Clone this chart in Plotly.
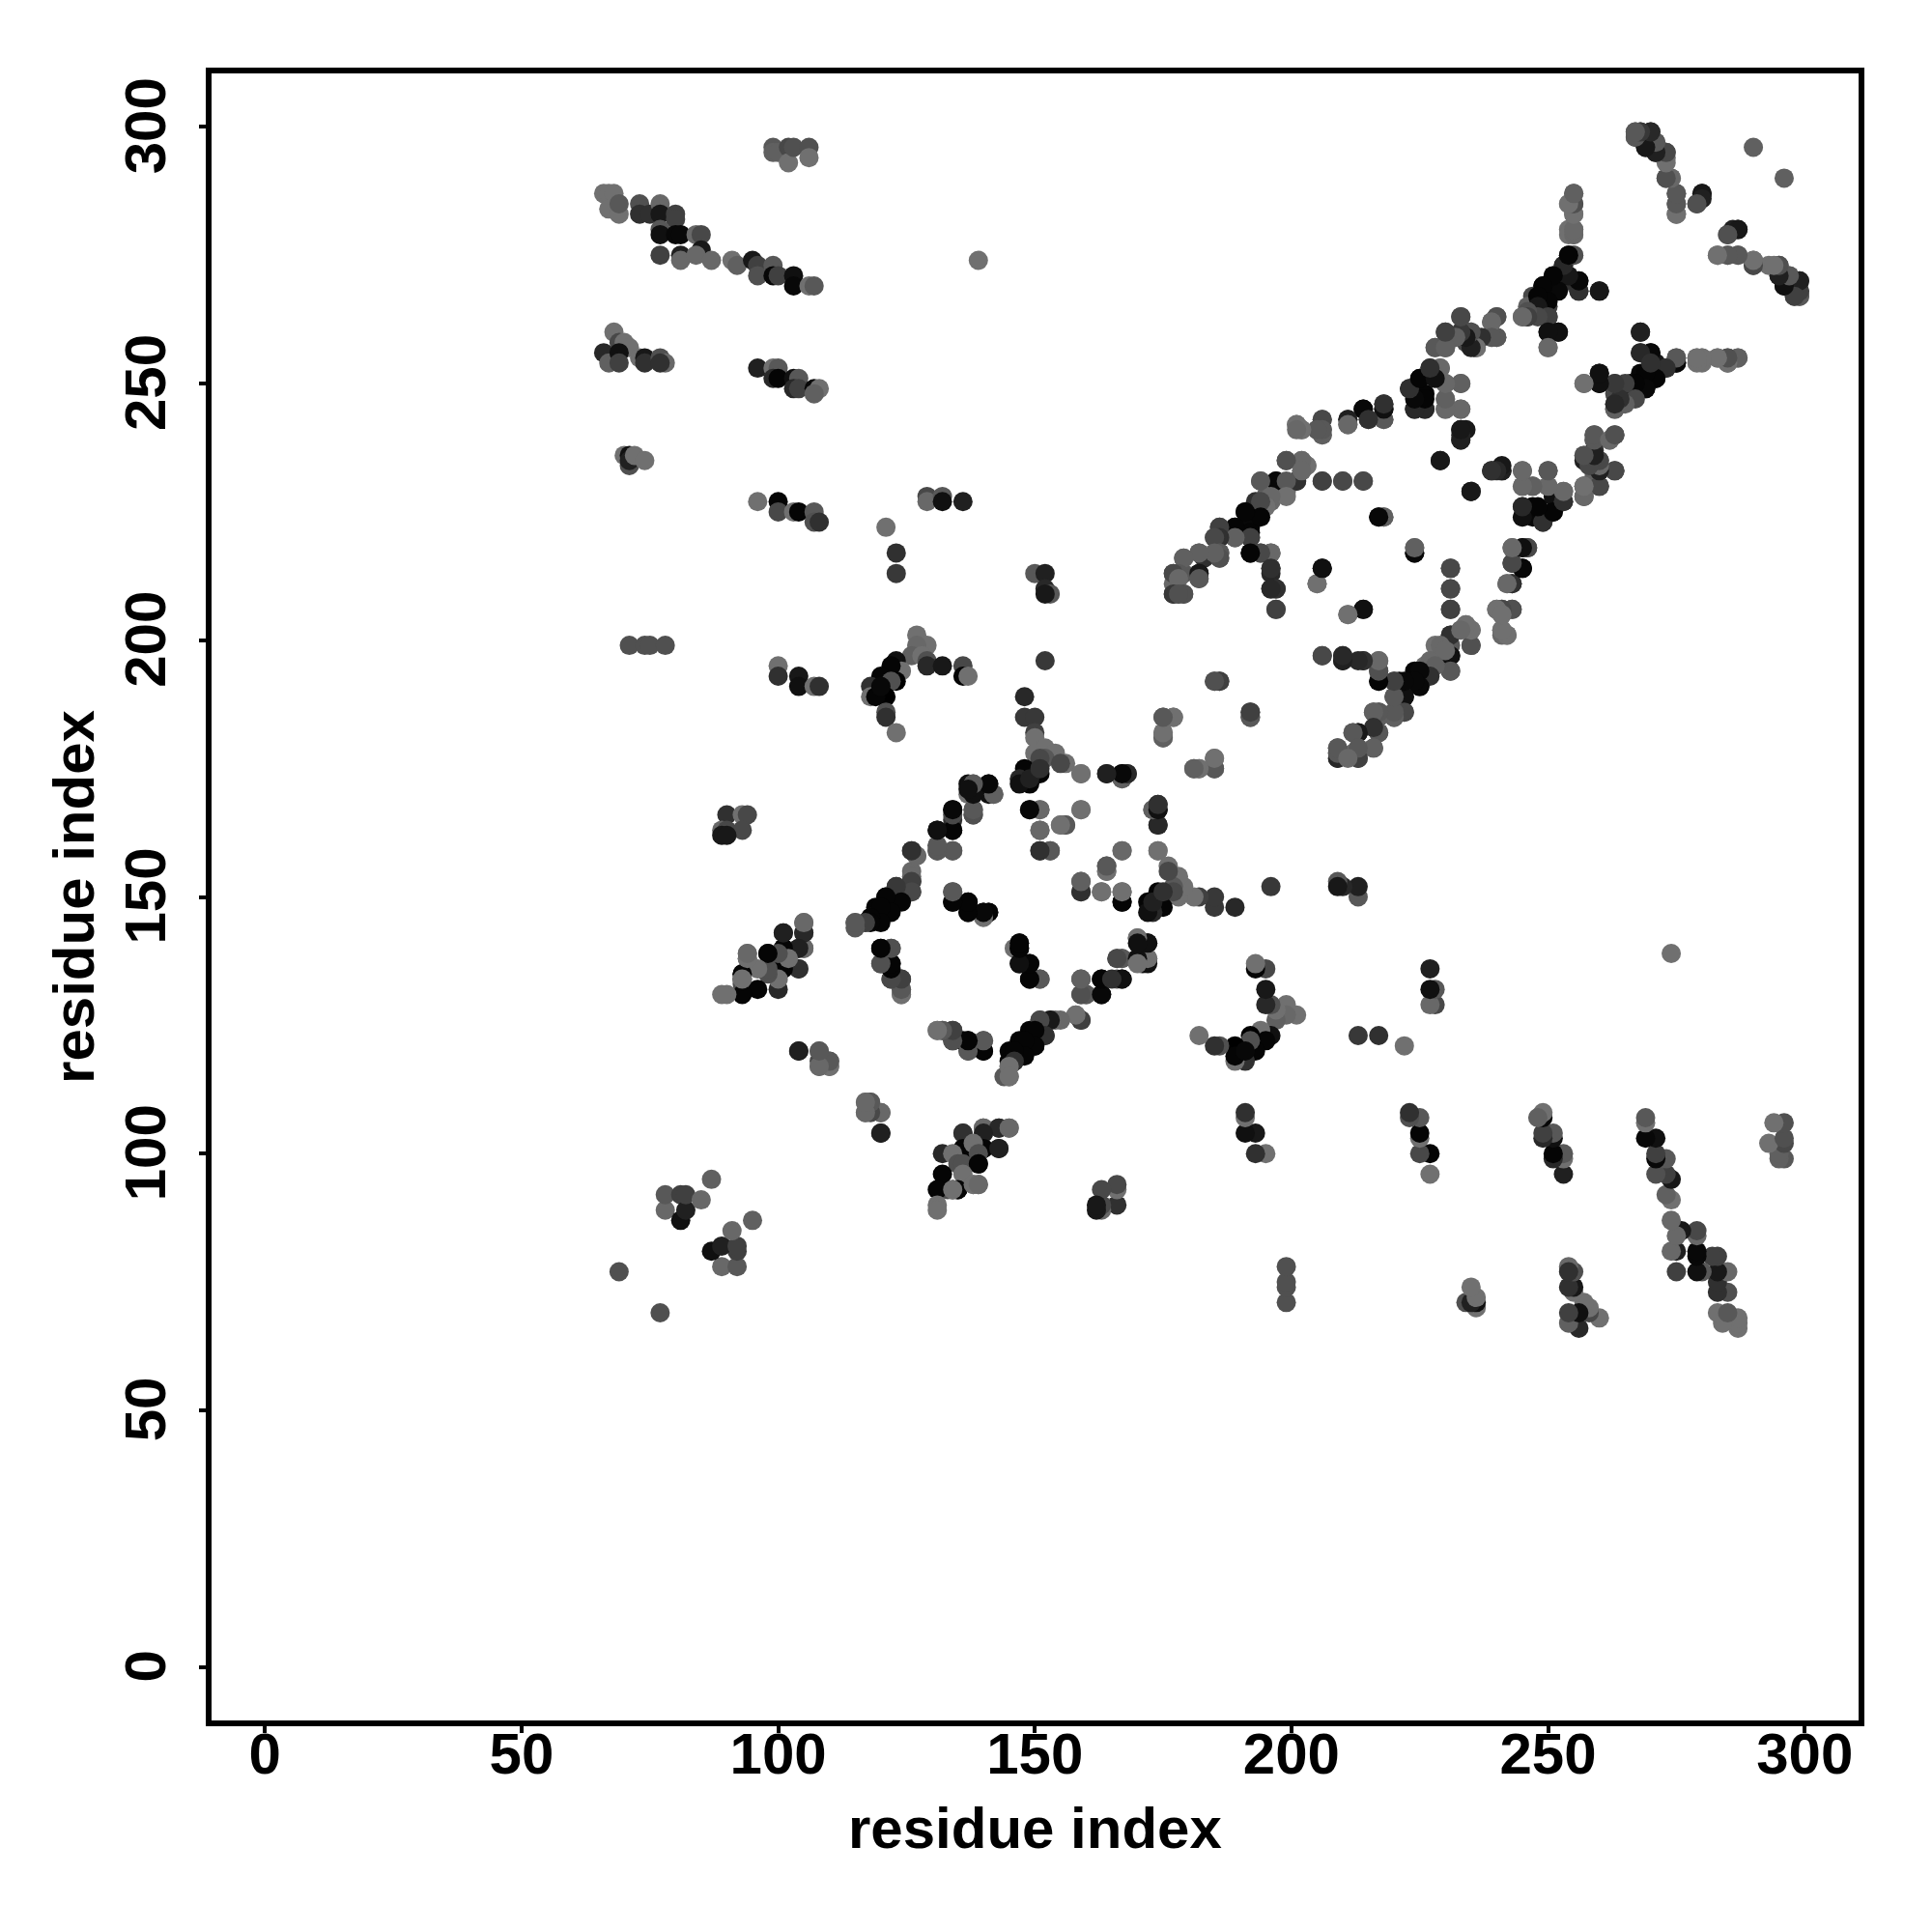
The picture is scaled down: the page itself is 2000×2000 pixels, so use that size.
import plotly.graph_objects as go

# Contact pairs (i < j); the map is symmetric. Shade is the grey level of each dot.
contact_i = [
 66,67,68,67,69,69, 73,73,75,77,77,80,80,77,77,80,81,
 77,81,81,84,85,85,84,87, 91,92,95,96,96,99,99,100,103,103,106,107,
 68,66,67,69,70,71,69,69,73,74,74,77,78,77,
 96,99,100,99,100,103,104,103,104,107,108,107,
 99,99,100,102,102,103,106,106,
 70,71,71,71,72,74,
 96,100,100,103,104,107,107,108,
 129,129,132,132,136, 121,123,123,
 150,152,152,153,152,
 71,74,75,78, 100,100,104,104,107,108,
 127,129,127,126,128,129,129,132,136,136,137,
 123,124,122,123,120,122,118,121,118,119,120,121,121,123,
 152,148,148,150,150,150,150,152,154,152,151,156,155,159,164,167,167,168,
 148,151,147,149,147,149,151,
 149,151,159,151,155,156,151,153,167,
 164,164,159,159,163,167,167,
 174,173,174,174,174,185,186,175,177,175,175,192,192,181,182,185,185,
 126,127,131,131,134,131,134,134,134,138,138,
 137,138,138,137,141,142,141,
 126,126,126,123,124,121,122,119,120,118,117,115,
 134,134,137,137,140,141,
 120,122,120,122,122,124,124,124,
 147,146,147,147,149,149,151,
 159,159,160,163,163,166,167,166,167,170,170,172,172,171,
 158,159,154,153,151,152,149,150,147,148,145,146,145,145,144,145,
 131,132,134,134,136,137,137,140,140,
 105,105,101,105,104,98,101,102,94,94,104,93,93,93,
 90,93,94,89,90,93,89,90,
 104,108,108,110,108,110, 117,118,117,120,120,
 104,105,105,105,104,100,101,100,101,101,102,100,100,98,98,98,96,96,93,93,93,94,94,90,89,
 69,78,78,81,81,82,82,85,87,
 201,202,206,206,206,205,211,211,214,215,218,218,218,
 223,225,227,229,230,233,226,224,226,230,230,233,
 233,234,233,233,229,235,239,241,245,250,245,247,250,253,257,257,
 245,245,247,247,249,251,251,253,
 243,245,246,245,243,243,242,240,243,241,241,241,242,241,
 234,235,235,231,233,231,231,231,228,228,226,227,224,225,221,222,220,217,217,217,214,210,210,206,
 220,222,220,220,217,216,217,217,213,212,216,213,213,212,209,209,209,
 199,202,203,201,202,206,210,214,
 197,194,199,198,196,195,193,194,191,192,189,192,186,185,186,189,192,192,194,196,196,196,196,197,197,
 206,205,211,214, 217,218,224,224, 231,231,231,
 186,186,182,183,179,182,182,177,179,177,178,179,177,
 267,268,270,267,269,271,271,273,273,273,274,275,275,275,
 280,279,290,287,286,285,
 283,285,287,290,290,293,295,295,297,296,298,299,299,299,
 255,254,255,255,254,255,254,255,
 254,255,253,251,252,249,250,256,256,254,260,247,246,250,247,245,246,250,
 250,252,250,
 268,268,270,271,273,275,275,279,280,283,285,285,287,
 268,271,269,266,267,265,263,263,264,263,263,260,260,257,
 259,263,262,259,259,257,257,260,259,260,263,259,257,260,
 233,230,228,230,233,234,235,234,236,236,239,240,239,240,
 139,
]
contact_j = [
 287,287,287,284,283,285, 285,283,283,285,283,283,282,280,279,279,279,
 275,275,274,279,279,276,275,274, 274,273,274,273,271,273,271,271,271,269,269,269,
 260,256,254,258,258,257,256,254,255,255,254,255,254,254,
 253,253,253,251,251,251,251,249,249,249,249,248,
 296,295,295,296,293,296,296,294,
 236,236,234,235,236,235,
 227,227,225,225,225,225,223,223,
 228,227,228,227,227, 222,217,213,
 213,213,210,209,209,
 199,199,199,199, 195,193,193,191,191,191,
 201,199,199,197,197,196,195,195,195,193,193,
 196,194,195,192,193,192,191,189,189,189,191,186,185,182,
 196,189,185,185,182,181,178,179,178,177,177,176,176,174,174,173,174,174,
 175,174,173,172,172,173,175,
 167,167,167,163,164,164,159,159,159,
 156,155,153,151,151,151,149,
 159,167,168,167,164,192,192,185,185,182,181,186,185,175,175,177,175,
 159,158,160,159,159,163,163,167,165,167,166,
 172,172,170,170,172,170,170,
 155,153,151,152,150,150,148,148,146,146,145,145,
 151,149,149,147,147,147,
 140,140,137,137,134,134,132,131,
 141,140,140,137,137,134,134,
 134,131,131,134,131,134,134,138,138,142,138,141,138,137,
 127,126,126,126,126,123,124,121,122,120,120,118,118,117,115,115,
 124,124,124,122,122,122,120,122,120,
 145,143,143,140,140,139,140,139,139,138,136,135,134,133,
 166,166,166,163,163,163,162,162,
 120,120,118,118,117,117, 110,110,108,108,104,
 136,140,143,145,140,132,136,136,140,143,138,134,139,135,136,139,132,136,131,135,134,138,139,131,131,
 77,89,92,87,92,89,92,91,95,
 242,241,243,241,240,241,243,242,245,243,246,245,243,
 249,251,253,253,250,250,248,245,245,247,245,245,
 241,241,240,239,235,229,233,233,233,233,230,230,230,229,230,228,
 226,224,226,224,223,225,228,227,
 218,218,218,214,215,211,211,206,206,206,205,202,201,201,
 203,202,199,201,202,197,194,199,199,196,195,194,194,191,192,189,192,196,194,192,196,197,196,197,
 189,186,186,185,186,186,185,182,182,182,179,178,177,178,179,177,178,
 235,235,234,231,233,231,231,231,
 231,231,229,230,227,228,227,225,225,224,222,222,222,220,220,220,220,217,217,217,214,213,210,210,206,
 214,211,205,206, 224,224,218,217, 214,210,206,
 217,216,217,216,216,213,212,213,213,209,209,209,211,
 299,299,299,298,296,297,295,295,294,290,290,287,285,283,
 287,285,296,280,280,279,
 275,275,275,274,273,273,273,271,271,269,267,270,268,267,
 287,285,285,283,280,280,279,279,
 275,275,273,271,269,269,267,270,268,270,268,267,265,265,264,263,263,263,
 260,260,257,
 260,256,256,254,253,255,254,255,255,255,255,254,255,
 252,251,249,250,248,248,250,248,246,246,245,252,250,250,
 240,240,239,239,237,236,235,235,234,233,233,232,230,230,
 263,260,257,257,260,260,260,258,259,257,259,259,262,263,
 274,
]
contact_shade = [
 0x70,0x70,0x70,0x70,0x70,0x58, 0x50,0x30,0x30,0x68,0x18,0x40,0x40,0x58,0x10,0x08,0x08,
 0x40,0x20,0x68,0x68,0x48,0x18,0x68,0x68, 0x70,0x60,0x18,0x40,0x50,0x58,0x08,0x40,0x10,0x08,0x70,0x58,
 0x70,0x28,0x60,0x48,0x70,0x70,0x10,0x40,0x70,0x18,0x30,0x50,0x68,0x30,
 0x20,0x70,0x58,0x28,0x05,0x10,0x58,0x28,0x40,0x08,0x70,0x60,
 0x58,0x60,0x60,0x48,0x70,0x50,0x50,0x70,
 0x70,0x10,0x50,0x20,0x70,0x70,
 0x70,0x05,0x48,0x70,0x05,0x58,0x50,0x30,
 0x48,0x68,0x58,0x10,0x20, 0x70,0x30,0x38,
 0x58,0x20,0x28,0x58,0x18,
 0x50,0x50,0x50,0x50, 0x70,0x30,0x18,0x10,0x70,0x30,
 0x70,0x70,0x68,0x60,0x70,0x50,0x28,0x18,0x48,0x05,0x70,
 0x10,0x70,0x05,0x00,0x05,0x50,0x30,0x00,0x70,0x05,0x08,0x50,0x30,0x70,
 0x38,0x28,0x38,0x38,0x40,0x70,0x70,0x70,0x70,0x58,0x48,0x70,0x48,0x70,0x28,0x60,0x10,0x30,
 0x05,0x05,0x28,0x05,0x10,0x20,0x30,
 0x05,0x70,0x68,0x70,0x70,0x58,0x30,0x60,0x70,
 0x58,0x70,0x58,0x30,0x68,0x68,0x08,
 0x70,0x60,0x28,0x08,0x20,0x58,0x40,0x58,0x70,0x70,0x60,0x40,0x50,0x60,0x70,0x70,0x58,
 0x40,0x70,0x58,0x50,0x60,0x08,0x05,0x10,0x30,0x58,0x48,
 0x10,0x70,0x10,0x70,0x10,0x70,0x10,
 0x68,0x18,0x48,0x30,0x05,0x05,0x05,0x05,0x05,0x30,0x70,0x70,
 0x58,0x05,0x05,0x10,0x05,0x05,
 0x05,0x58,0x58,0x05,0x50,0x40,0x58,0x70,
 0x05,0x70,0x08,0x05,0x05,0x05,0x58,
 0x58,0x58,0x58,0x05,0x10,0x48,0x08,0x50,0x58,0x60,0x10,0x08,0x58,0x10,
 0x68,0x30,0x68,0x40,0x48,0x38,0x05,0x05,0x05,0x05,0x05,0x05,0x05,0x40,0x58,0x58,
 0x70,0x58,0x40,0x48,0x05,0x05,0x50,0x50,0x05,
 0x68,0x30,0x20,0x58,0x48,0x05,0x05,0x70,0x68,0x68,0x40,0x05,0x05,0x50,
 0x30,0x70,0x48,0x68,0x48,0x48,0x18,0x18,
 0x20,0x68,0x48,0x58,0x68,0x68, 0x70,0x58,0x68,0x58,0x20,
 0x30,0x68,0x28,0x68,0x20,0x28,0x05,0x05,0x05,0x20,0x70,0x70,0x50,0x50,0x50,0x05,0x05,0x70,0x05,0x05,0x70,0x70,0x68,0x70,0x70,
 0x50,0x68,0x58,0x10,0x40,0x20,0x40,0x68,0x60,
 0x70,0x70,0x50,0x48,0x70,0x70,0x30,0x68,0x08,0x48,0x48,0x10,0x68,
 0x30,0x05,0x30,0x68,0x68,0x58,0x05,0x10,0x28,0x60,0x68,0x68,
 0x20,0x18,0x28,0x30,0x18,0x18,0x20,0x18,0x68,0x60,0x68,0x60,0x68,0x68,0x68,0x58,
 0x28,0x28,0x05,0x08,0x30,0x05,0x10,0x30,
 0x58,0x10,0x30,0x08,0x30,0x20,0x68,0x60,0x48,0x58,0x58,0x70,0x70,0x68,
 0x70,0x68,0x50,0x30,0x68,0x08,0x58,0x58,0x70,0x68,0x70,0x48,0x05,0x05,0x05,0x05,0x40,0x68,0x48,0x05,0x30,0x30,0x28,0x40,
 0x60,0x40,0x30,0x48,0x58,0x50,0x60,0x60,0x18,0x58,0x60,0x58,0x48,0x68,0x50,0x38,0x50,
 0x50,0x70,0x70,0x30,0x68,0x40,0x48,0x48,
 0x10,0x58,0x68,0x68,0x68,0x60,0x30,0x08,0x08,0x08,0x10,0x08,0x48,0x60,0x58,0x58,0x40,0x05,0x50,0x68,0x30,0x28,0x20,0x28,0x48,
 0x10,0x70,0x70,0x10, 0x08,0x60,0x60,0x08, 0x48,0x48,0x40,
 0x58,0x60,0x58,0x30,0x60,0x18,0x58,0x40,0x58,0x28,0x58,0x58,0x68,
 0x58,0x40,0x20,0x40,0x10,0x58,0x20,0x50,0x70,0x48,0x70,0x58,0x58,0x70,
 0x18,0x50,0x60,0x18,0x20,0x50,
 0x70,0x58,0x58,0x68,0x50,0x70,0x48,0x20,0x58,0x18,0x58,0x28,0x38,0x58,
 0x60,0x70,0x50,0x70,0x70,0x70,0x70,0x70,
 0x08,0x58,0x30,0x05,0x05,0x08,0x05,0x08,0x28,0x30,0x20,0x48,0x60,0x40,0x30,0x60,0x28,0x38,
 0x10,0x10,0x70,
 0x18,0x30,0x08,0x18,0x28,0x50,0x05,0x68,0x68,0x70,0x50,0x70,0x60,
 0x08,0x05,0x05,0x05,0x05,0x18,0x40,0x48,0x50,0x40,0x68,0x10,0x10,0x68,
 0x58,0x50,0x68,0x58,0x30,0x70,0x20,0x50,0x18,0x38,0x48,0x60,0x60,0x40,
 0x48,0x48,0x68,0x70,0x20,0x68,0x48,0x48,0x20,0x50,0x58,0x58,0x68,0x50,
 0x70,
]
assert len(contact_i) == len(contact_j) == len(contact_shade), (len(contact_i), len(contact_j), len(contact_shade))

tick_values = [0, 50, 100, 150, 200, 250, 300]
axis_title = "residue index"
font = dict(family="Liberation Sans", size=60, color="black", weight=700)
grey = [f"rgb({g},{g},{g})" for g in contact_shade]

fig = go.Figure(go.Scatter(
    x=contact_i + contact_j, y=contact_j + contact_i, mode="markers",
    marker=dict(size=20, color=grey + grey, line=dict(width=0)),
    hoverinfo="skip",
))
common = dict(tickvals=tick_values, ticks="outside", ticklen=7, tickwidth=4,
              tickcolor="black", showline=True, linewidth=5.5, linecolor="black", mirror=True,
              showgrid=False, zeroline=False, tickfont=font)
fig.update_xaxes(**common, range=[-10.4, 310.5], tickangle=0, ticklabelstandoff=-30)
fig.update_yaxes(**common, range=[-10.4, 310.4], title=dict(text=axis_title, font=font, standoff=2),
                 tickangle=-90, ticklabelstandoff=11, ticklabelshift=8)
fig.add_annotation(text=axis_title, font=font, xref="paper", yref="paper", x=0.5, y=0,
                   xanchor="center", yanchor="middle", yshift=-111, showarrow=False)
fig.update_layout(width=2000, height=2000, autosize=False, showlegend=False,
                  paper_bgcolor="white", plot_bgcolor="white",
                  margin=dict(l=211, r=84, t=68, b=227, autoexpand=False))
fig.write_html("out.html")
